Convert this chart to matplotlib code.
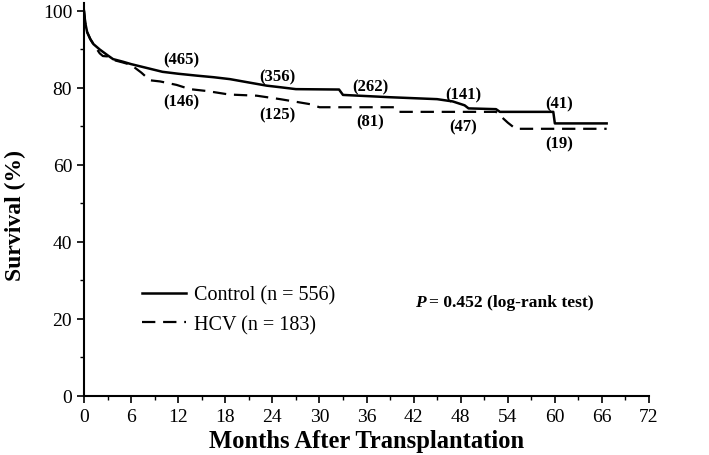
import matplotlib
matplotlib.use('Agg')
import matplotlib.pyplot as plt
from matplotlib.ticker import MultipleLocator

plt.rcParams['font.family'] = 'Liberation Serif'

# Kaplan-Meier curves (months, survival %)
control_t = [0, 0.15, 0.4, 0.8, 1.2, 2, 3, 3.7, 5, 6, 8, 10, 12, 14.4, 16.5, 18.6,
             20.8, 23.3, 25, 27, 32.5, 33, 39, 45, 47, 48.5, 49, 52.5, 53, 59.8,
             60, 66.6]
control_s = [100, 97, 94.5, 92.7, 91.4, 90, 88.5, 87.5, 86.8, 86.2, 85.2, 84.2,
             83.7, 83.2, 82.8, 82.3, 81.5, 80.6, 80.2, 79.7, 79.6, 78.2, 77.6,
             77.1, 76.5, 75.5, 74.7, 74.5, 73.8, 73.8, 70.8, 70.8]

hcv_t = [0, 0.15, 0.4, 0.8, 1.2, 2, 2.4, 3, 3.7, 5, 6, 7.3, 8.4, 9.7, 11.8, 13.5,
         15.7, 18.5, 22, 25, 28.8, 30, 39.5, 40, 52.5, 54, 55, 66.6]
hcv_s = [100, 97, 94.5, 92.7, 91.4, 89, 88.3, 88.2, 87.3, 86.6, 86, 84, 82,
         81.7, 80.8, 79.7, 79.2, 78.3, 78, 77.1, 75.8, 75, 75, 73.8, 73.8, 71,
         69.4, 69.4]

# numbers at risk
risk_x = [12.4, 24.6, 36.5, 48.3, 60.5]
control_risk = ['(465)', '(356)', '(262)', '(141)', '(41)']
control_risk_y = [87.5, 83.1, 80.5, 78.4, 76.1]
hcv_risk = ['(146)', '(125)', '(81)', '(47)', '(19)']
hcv_risk_y = [76.4, 73.2, 71.2, 69.9, 65.7]

xticks = [0, 6, 12, 18, 24, 30, 36, 42, 48, 54, 60, 66, 72]
yticks = [0, 20, 40, 60, 80, 100]

fig = plt.figure(figsize=(7.09, 4.56), dpi=100)
ax = fig.add_axes([0.1185, 0.1294, 0.7969, 0.8612])

ax.plot(control_t, control_s, 'k-', lw=1.8, label='Control (n = 556)')
ax.plot(hcv_t, hcv_s, 'k--', lw=1.6, dashes=(6, 3.5), label='HCV (n = 183)')

for x, y, s in zip(risk_x, control_risk_y, control_risk):
    ax.text(x, y, s, ha='center', va='center', fontsize=12, fontweight='bold')
for x, y, s in zip(risk_x, hcv_risk_y, hcv_risk):
    ax.text(x, y, s, ha='center', va='center', fontsize=12, fontweight='bold')

ax.text(42.2, 24.4, 'P', fontsize=12.5, fontweight='bold', style='italic',
        ha='left', va='center')
ax.text(43.9, 24.4, '= 0.452 (log-rank test)', fontsize=12.6, fontweight='bold',
        ha='left', va='center')

ax.legend(loc='center left', bbox_to_anchor=(0.1027, 0.219), frameon=False,
          fontsize=14.5, handlelength=2.2, handletextpad=0.4, labelspacing=0.5,
          borderpad=0, borderaxespad=0)

ax.set_xlim(0, 72)
ax.set_ylim(0, 102)
ax.set_xticks(xticks)
ax.set_yticks(yticks)
ax.xaxis.set_minor_locator(MultipleLocator(3))
ax.yaxis.set_minor_locator(MultipleLocator(10))
ax.tick_params(labelsize=14, width=1.2, length=5)
ax.tick_params(which='minor', width=1, length=3)
ax.spines['top'].set_visible(False)
ax.spines['right'].set_visible(False)
ax.spines['left'].set_linewidth(1.5)
ax.spines['bottom'].set_linewidth(1.5)

ax.set_xlabel('Months After Transplantation', fontsize=17.7, fontweight='bold', labelpad=3)
ax.set_ylabel('Survival (%)', fontsize=17, fontweight='bold')
ax.yaxis.set_label_coords(-0.102, 0.461)

fig.savefig('out.png', dpi=100)
